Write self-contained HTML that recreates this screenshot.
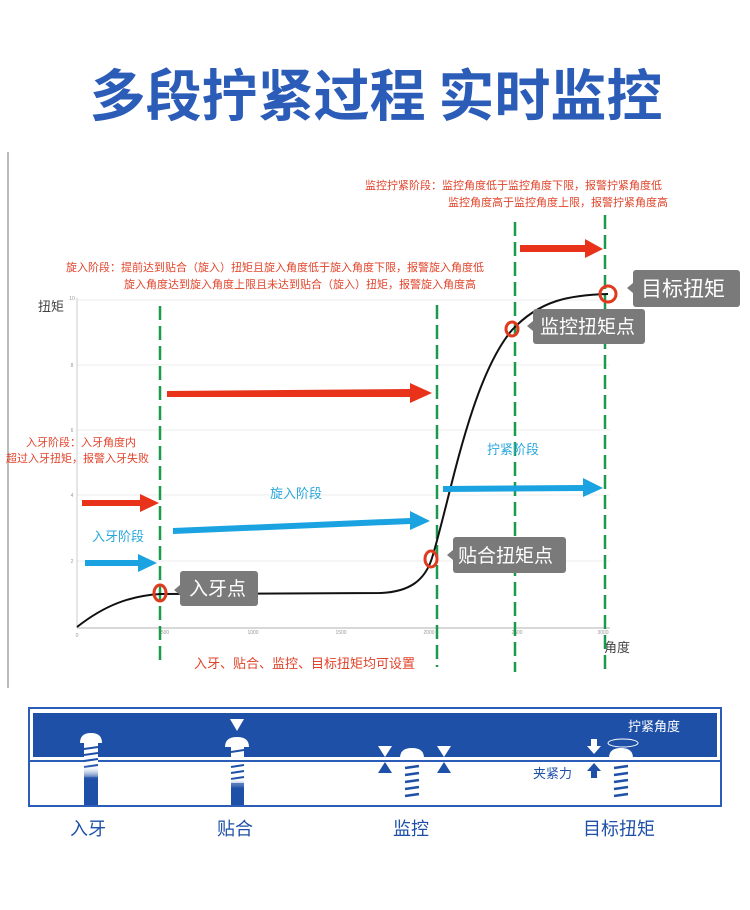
<!DOCTYPE html>
<html><head><meta charset="utf-8"><style>
html,body{margin:0;padding:0;background:#fff;}
svg{display:block;}
text{font-family:"Liberation Sans","Noto Sans CJK SC",sans-serif;}
</style></head><body>
<svg width="750" height="910" viewBox="0 0 750 910" xmlns="http://www.w3.org/2000/svg">
<defs>
<linearGradient id="fade" x1="0" y1="0" x2="0" y2="1"><stop offset="0" stop-color="#fff" stop-opacity="0"/><stop offset="1" stop-color="#1e50a8"/></linearGradient>
</defs>
<text x="376" y="116" text-anchor="middle" font-size="56" font-weight="bold" fill="#2a5cb8" style="font-family:'Noto Sans CJK SC',sans-serif">多段拧紧过程 实时监控</text>

<line x1="8" y1="152" x2="8" y2="688" stroke="#bbb" stroke-width="2"/>
<g stroke="#eee" stroke-width="1">
<line x1="77" y1="300" x2="610" y2="300"/><line x1="77" y1="365" x2="610" y2="365"/>
<line x1="77" y1="430" x2="610" y2="430"/><line x1="77" y1="495" x2="610" y2="495"/>
<line x1="77" y1="561" x2="610" y2="561"/>
</g>
<line x1="77" y1="298" x2="77" y2="628" stroke="#ccc"/>
<line x1="77" y1="628" x2="610" y2="628" stroke="#ccc" stroke-width="1.5"/>
<g font-size="5" fill="#999" text-anchor="middle">
<text x="77" y="637">0</text><text x="165" y="634">500</text><text x="253" y="634">1000</text><text x="341" y="634">1500</text><text x="429" y="634">2000</text><text x="517" y="634">2500</text><text x="603" y="634">3000</text>
<text x="72" y="300">10</text><text x="72" y="367">8</text><text x="72" y="432">6</text><text x="72" y="497">4</text><text x="72" y="563">2</text>
</g>
<text x="38" y="311" font-size="13" fill="#444">扭矩</text>
<text x="604" y="652" font-size="13" fill="#444">角度</text>

<g stroke="#1a9a4a" stroke-width="2.5" stroke-dasharray="14,6">
<line x1="160" y1="306" x2="160" y2="666"/>
<line x1="437" y1="305" x2="437" y2="667"/>
<line x1="515" y1="222" x2="515" y2="672"/>
<line x1="605" y1="215" x2="605" y2="672"/>
</g>

<path d="M77,627 C105,605 130,596 160,594 L380,593 C410,592 425,580 432,558 C450,500 470,380 512,330 C540,300 570,295 608,294" fill="none" stroke="#111" stroke-width="2"/>

<g fill="none" stroke="#e03a1e" stroke-width="3">
<ellipse cx="160" cy="593" rx="6" ry="8"/><ellipse cx="431" cy="559" rx="6" ry="8"/>
<ellipse cx="512" cy="329" rx="6" ry="7"/><ellipse cx="608" cy="294" rx="8" ry="8"/>
</g>

<g fill="#7a7a7a">
<rect x="180" y="571" width="78" height="35" rx="3"/><polygon points="180,585 174,590 180,595"/>
<rect x="453" y="537" width="113" height="36" rx="3"/><polygon points="453,550 447,555 453,560"/>
<rect x="533" y="309" width="112" height="35" rx="3"/><polygon points="533,321 527,326 533,331"/>
<rect x="633" y="270" width="107" height="37" rx="3"/><polygon points="633,283 627,288 633,293"/>
</g>
<g fill="#fff" font-size="19">
<text x="189" y="595">入牙点</text><text x="458" y="562">贴合扭矩点</text>
<text x="540" y="333">监控扭矩点</text><text x="641" y="296" font-size="21">目标扭矩</text>
</g>

<g fill="#e8331a">
<polygon points="167,391 410,389 410,383 432,393 410,403 410,397 167,397"/>
<polygon points="520,245 585,245 585,239 603,249 585,258 585,252 520,252"/>
<polygon points="82,500 140,500 140,494 159,503 140,512 140,506 82,506"/>
</g>
<g fill="#1aa3e0">
<polygon points="85,560 138,560 138,554 157,563 138,572 138,566 85,566"/>
<polygon points="173,528 410,518 410,511 430,521 410,530 410,524 173,534"/>
<polygon points="443,486 583,485 583,478 603,488 583,497 583,491 443,492"/>
</g>

<g fill="#2aa7da" font-size="13">
<text x="92" y="541">入牙阶段</text><text x="270" y="498">旋入阶段</text><text x="487" y="454">拧紧阶段</text>
</g>
<g fill="#e0432a" font-size="11">
<text x="365" y="189">监控拧紧阶段：监控角度低于监控角度下限，报警拧紧角度低</text>
<text x="448" y="206">监控角度高于监控角度上限，报警拧紧角度高</text>
<text x="66" y="271">旋入阶段：提前达到贴合（旋入）扭矩且旋入角度低于旋入角度下限，报警旋入角度低</text>
<text x="124" y="288">旋入角度达到旋入角度上限且未达到贴合（旋入）扭矩，报警旋入角度高</text>
<text x="26" y="446">入牙阶段：入牙角度内</text>
<text x="6" y="462">超过入牙扭矩，报警入牙失败</text>
<text x="194" y="668" font-size="13">入牙、贴合、监控、目标扭矩均可设置</text>
</g>

<rect x="29" y="708" width="692" height="98" fill="#fff" stroke="#2a5cb8" stroke-width="2"/>
<rect x="33" y="713" width="684" height="44" fill="#1e50a8"/>
<line x1="30" y1="761" x2="720" y2="761" stroke="#2a5cb8" stroke-width="2"/>

<g>
<!-- 1 -->
<path d="M80,743 Q80,733 91,733 Q102,733 102,743 Z" fill="#fff"/>
<rect x="84" y="743" width="14" height="35" fill="#fff"/>
<g stroke="#1e50a8" stroke-width="2"><line x1="84" y1="749" x2="98" y2="747"/><line x1="84" y1="755" x2="98" y2="753"/><line x1="84" y1="761" x2="98" y2="759"/><line x1="84" y1="767" x2="98" y2="765"/></g>
<rect x="84" y="777" width="14" height="28" fill="#1e50a8"/>
<rect x="84" y="765" width="14" height="14" fill="url(#fade)"/>
<!-- 2 -->
<polygon points="230,719 244,719 237,731" fill="#fff"/>
<path d="M225,747 Q225,737 237,737 Q249,737 249,747 Z" fill="#fff"/>
<rect x="231" y="747" width="13" height="10" fill="#fff"/>
<g stroke="#1e50a8" stroke-width="2"><line x1="231" y1="752" x2="244" y2="750"/></g>
<rect x="231" y="762" width="13" height="22" fill="#fff"/>
<g stroke="#1e50a8" stroke-width="2"><line x1="231" y1="767" x2="244" y2="765"/><line x1="231" y1="773" x2="244" y2="771"/><line x1="231" y1="779" x2="244" y2="777"/></g>
<rect x="231" y="783" width="13" height="22" fill="#1e50a8"/>
<rect x="231" y="778" width="13" height="10" fill="url(#fade)"/>
<!-- 3 -->
<path d="M400,758 Q400,748 412,748 Q424,748 424,758 Z" fill="#fff"/>
<g stroke="#1e50a8" stroke-width="2.5"><line x1="405" y1="768" x2="419" y2="766"/><line x1="405" y1="775" x2="419" y2="773"/><line x1="405" y1="782" x2="419" y2="780"/><line x1="405" y1="789" x2="419" y2="787"/><line x1="405" y1="796" x2="419" y2="794"/></g>
<polygon points="378,746 392,746 385,757" fill="#fff"/><polygon points="437,746 451,746 444,757" fill="#fff"/>
<polygon points="378,773 392,773 385,762" fill="#1e50a8"/><polygon points="437,773 451,773 444,762" fill="#1e50a8"/>
<!-- 4 -->
<path d="M609,758 Q609,748 621,748 Q633,748 633,758 Z" fill="#fff"/>
<g stroke="#1e50a8" stroke-width="2.5"><line x1="614" y1="768" x2="628" y2="766"/><line x1="614" y1="775" x2="628" y2="773"/><line x1="614" y1="782" x2="628" y2="780"/><line x1="614" y1="789" x2="628" y2="787"/><line x1="614" y1="796" x2="628" y2="794"/></g>
<ellipse cx="623" cy="743" rx="15" ry="4" fill="none" stroke="#fff" stroke-width="1"/>
<polygon points="591,739 597,739 597,746 601,746 594,754 587,746 591,746" fill="#fff"/>
<polygon points="591,778 597,778 597,771 601,771 594,763 587,771 591,771" fill="#1e50a8"/>
</g>
<text x="628" y="731" font-size="13" fill="#fff">拧紧角度</text>
<text x="533" y="778" font-size="13" fill="#1e50a8">夹紧力</text>
<g font-size="18" fill="#1e50a8">
<text x="70" y="835">入牙</text><text x="217" y="835">贴合</text><text x="393" y="835">监控</text><text x="583" y="835">目标扭矩</text>
</g>
</svg>
</body></html>
